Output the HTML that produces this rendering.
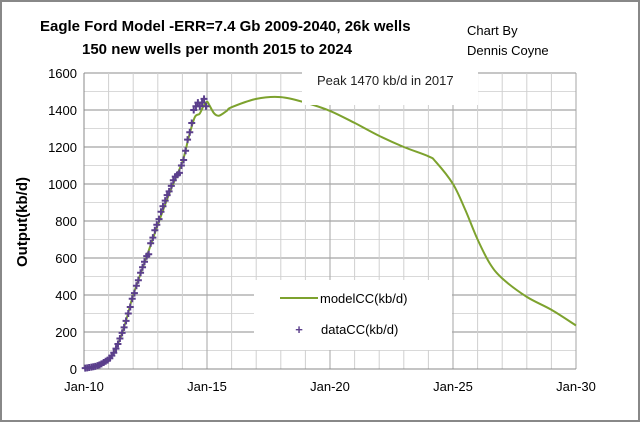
<!DOCTYPE html>
<html><head><meta charset="utf-8"><style>
body{margin:0;background:#fff}
svg text{font-family:"Liberation Sans",sans-serif}
</style></head><body>
<svg id="c" width="640" height="422" xmlns="http://www.w3.org/2000/svg">
<rect x="1" y="1" width="638" height="420" fill="#fff" stroke="#888" stroke-width="2"/>
<text x="40" y="31" font-size="15" font-weight="bold" fill="#000">Eagle Ford Model -ERR=7.4 Gb  2009-2040, 26k wells</text>
<text x="82" y="54" font-size="15" font-weight="bold" fill="#000">150 new wells per month 2015 to 2024</text>
<text x="467" y="35" font-size="13" fill="#000">Chart By</text>
<text x="467" y="55" font-size="13" fill="#000">Dennis Coyne</text>
<text transform="translate(27,222) rotate(-90)" text-anchor="middle" font-size="15" font-weight="bold">Output(kb/d)</text>
<g id="grid"></g><g id="axes"></g><g id="marks"></g>
<rect x="302" y="65" width="176" height="40" fill="#fff"/>
<text x="317" y="85" font-size="13" fill="#222">Peak 1470 kb/d in 2017</text>
<rect x="254" y="280" width="198" height="70" fill="#fff"/>
<line x1="280" y1="298" x2="318" y2="298" stroke="#7da22e" stroke-width="2"/>
<text x="320" y="303" font-size="13">modelCC(kb/d)</text>
<text x="299" y="334" font-size="13" fill="#5b3f8c" text-anchor="middle" font-weight="bold">+</text>
<text x="321" y="334" font-size="13">dataCC(kb/d)</text>
</svg>
<script>
const yTicks=[0,200,400,600,800,1000,1200,1400,1600];
const xTickYears=[0,5,10,15,20];
const xTickLabels=["Jan-10","Jan-15","Jan-20","Jan-25","Jan-30"];
const modelYears=[0,0.5,1,1.25,1.5,1.75,2,2.5,3,3.5,4,4.25,4.5,4.7,4.85,5,5.1,5.3,5.5,5.8,6,7,8,9,10,11,12,13,14,14.3,15,15.5,16,16.5,17,18,19,20];
const modelValues=[5,15,50,100,175,280,400,590,780,960,1120,1250,1360,1380,1420,1445,1425,1380,1370,1395,1415,1460,1470,1440,1395,1330,1260,1200,1150,1120,1000,860,700,570,490,390,320,235];
const dataYears=[0.05,0.13,0.21,0.3,0.38,0.46,0.55,0.63,0.71,0.8,0.88,0.96,1.05,1.13,1.21,1.3,1.38,1.46,1.55,1.63,1.71,1.8,1.88,1.96,2.05,2.13,2.21,2.3,2.38,2.46,2.55,2.63,2.71,2.8,2.88,2.96,3.05,3.13,3.21,3.3,3.38,3.46,3.55,3.63,3.71,3.8,3.88,3.96,4.05,4.13,4.21,4.3,4.38,4.46,4.55,4.63,4.71,4.8,4.88,4.96];
const dataValues=[5,6,8,10,12,14,18,22,28,35,42,48,58,72,88,110,135,165,195,225,260,300,335,380,410,450,480,520,550,580,610,620,680,710,750,780,810,850,880,910,940,960,990,1020,1040,1050,1060,1100,1130,1180,1240,1280,1330,1400,1420,1440,1420,1440,1460,1420];
const NS="http://www.w3.org/2000/svg";
const X0=84,X1=576,Y0=369,Y1=73;
const xs=t=>X0+(X1-X0)*t/20;
const ys=v=>Y0-(Y0-Y1)*v/1600;
function mk(tag,a,parent){const e=document.createElementNS(NS,tag);for(const k in a)e.setAttribute(k,a[k]);document.getElementById(parent).appendChild(e);return e;}
for(let v=0;v<=1600;v+=100){const l=mk('line',{x1:X0,x2:X1,y1:ys(v),y2:ys(v),stroke:v%200?'#d9d9d9':'#8c8c8c','stroke-width':1},'grid');

}
for(let t=1;t<=20;t++){const l=mk('line',{x1:xs(t),x2:xs(t),y1:Y1,y2:Y0,stroke:t%5?'#d0d0d0':'#a6a6a6','stroke-width':1},'grid');

}
const ax=mk('line',{x1:X0,x2:X0,y1:Y1,y2:Y0,stroke:'#888'},'axes');


const bx=mk('line',{x1:X0,x2:X1,y1:Y0,y2:Y0,stroke:'#888'},'axes');


yTicks.forEach(v=>{const t=mk('text',{x:X0-7,y:ys(v)+5,'text-anchor':'end','font-size':13},'axes');t.textContent=v;

});
xTickYears.forEach((y,i)=>{const t=mk('text',{x:xs(y),y:391,'text-anchor':'middle','font-size':13},'axes');t.textContent=xTickLabels[i];

});
const P=modelYears.map((t,i)=>[xs(t),ys(modelValues[i])]);
let d='M'+P[0][0].toFixed(1)+' '+P[0][1].toFixed(1);
for(let i=0;i<P.length-1;i++){const p0=P[Math.max(0,i-1)],p1=P[i],p2=P[i+1],p3=P[Math.min(P.length-1,i+2)];
const c1=[p1[0]+(p2[0]-p0[0])/6,p1[1]+(p2[1]-p0[1])/6],c2=[p2[0]-(p3[0]-p1[0])/6,p2[1]-(p3[1]-p1[1])/6];
d+=`C${c1[0].toFixed(1)} ${c1[1].toFixed(1)} ${c2[0].toFixed(1)} ${c2[1].toFixed(1)} ${p2[0].toFixed(1)} ${p2[1].toFixed(1)}`;}
const p=mk('path',{d:d,fill:'none',stroke:'#7da22e','stroke-width':2,'stroke-linejoin':'round'},'marks');


dataYears.forEach((t,i)=>{const x=xs(t),y=ys(dataValues[i]);
const g=mk('path',{d:`M${x-3.5} ${y}H${x+3.5}M${x} ${y-3.5}V${y+3.5}`,stroke:'#5b3f8c','stroke-width':2},'marks');

});
</script>
</body></html>
